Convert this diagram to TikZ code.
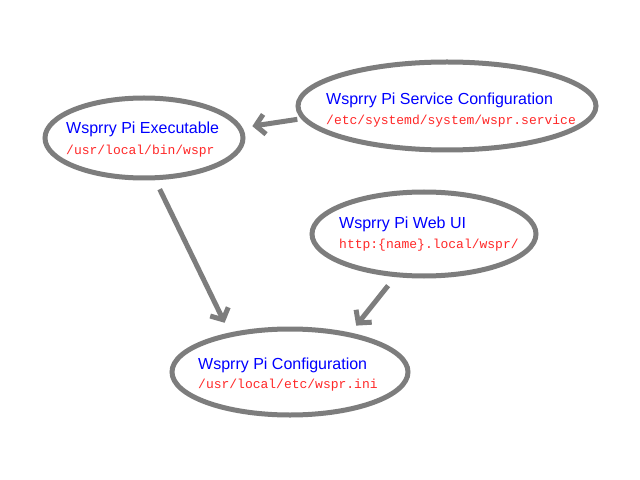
\documentclass[tikz,border=0pt]{standalone}
\usepackage{fontspec}
\setmainfont{Liberation Sans}
\newfontfamily\monofam{Liberation Mono}
\usetikzlibrary{shapes.geometric,arrows.meta}
\definecolor{edgegray}{RGB}{125,125,125}
\definecolor{titleblue}{RGB}{0,0,255}
\definecolor{pathred}{RGB}{255,40,40}
\begin{document}
\begin{tikzpicture}[x=1bp,y=-1bp,
  bubble/.style={draw=edgegray,line width=5bp,ellipse,inner sep=0pt},
  title/.style={anchor=base west,inner sep=0pt,text=titleblue,font=\fontsize{16bp}{19bp}\selectfont},
  fpath/.style={anchor=base west,inner sep=0pt,text=pathred,font=\monofam\fontsize{13bp}{16bp}\selectfont},
  link/.style={draw=edgegray,line width=5bp,-{Straight Barb[length=9bp,width=20bp]}}]
\useasboundingbox (0,0) rectangle (640,480);
\fill[white] (0,0) rectangle (640,480);
% ellipses
\node[bubble,minimum width=198bp,minimum height=80bp] (exe) at (144,138) {};
\node[bubble,minimum width=298bp,minimum height=88bp] (svc) at (447,106) {};
\node[bubble,minimum width=224bp,minimum height=84bp] (web) at (424,234) {};
\node[bubble,minimum width=236bp,minimum height=86bp] (cfg) at (290,372) {};
% texts
\node[title] (exet) at (66,134) {Wsprry Pi Executable};
\node[fpath] (exep) at (66,155) {/usr/local/bin/wspr};
\node[title] (svct) at (326,105) {Wsprry Pi Service Configuration};
\node[fpath] (svcp) at (326,125) {/etc/systemd/system/wspr.service};
\node[title] (webt) at (339,229) {Wsprry Pi Web UI};
\node[fpath] (webp) at (339,249) {http:\{name\}.local/wspr/};
\node[title] (cfgt) at (198,369) {Wsprry Pi Configuration};
\node[fpath] (cfgp) at (198,388) {/usr/local/etc/wspr.ini};
% connectors
\draw[link,shorten <=4bp,shorten >=10bp] (svc.185) -- (exe.6);
\draw[link,shorten <=10bp,shorten >=11bp] (exe.-75) -- (cfg.147);
\draw[link,shorten <=11bp,shorten >=9bp] (web.-124) -- (cfg.33);
\end{tikzpicture}
\end{document}
